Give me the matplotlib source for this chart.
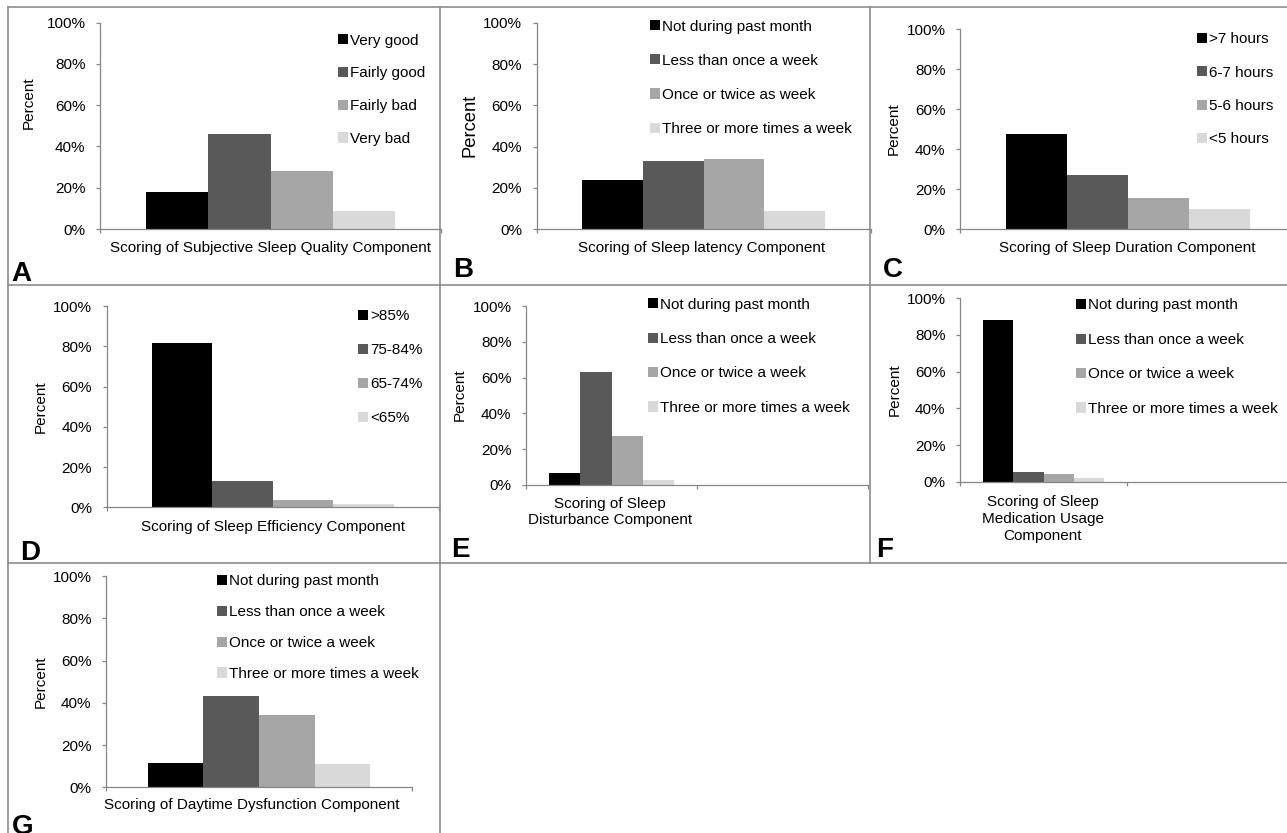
import matplotlib
matplotlib.use('Agg')
import matplotlib.pyplot as plt
from matplotlib.lines import Line2D
import numpy as np

plt.rcParams['font.family'] = ['Liberation Sans', 'DejaVu Sans']

W, H = 1287, 833

# ---- data (percent of respondents) ----
bar_colors = ['#000000', '#595959', '#a6a6a6', '#d9d9d9']

quality_labels = ['Very good', 'Fairly good', 'Fairly bad', 'Very bad']
quality_vals = [17.9, 46.0, 28.1, 8.7]

latency_labels = ['Not during past month', 'Less than once a week',
                  'Once or twice as week', 'Three or more times a week']
latency_vals = [23.9, 33.1, 34.0, 8.9]

duration_labels = ['>7 hours', '6-7 hours', '5-6 hours', '<5 hours']
duration_vals = [47.4, 27.0, 15.6, 10.1]

efficiency_labels = ['>85%', '75-84%', '65-74%', '<65%']
efficiency_vals = [81.8, 13.1, 3.6, 1.7]

freq_labels = ['Not during past month', 'Less than once a week',
               'Once or twice a week', 'Three or more times a week']
disturbance_vals = [6.6, 63.4, 27.3, 2.7]
medication_vals = [88.2, 5.3, 4.2, 2.0]
daytime_vals = [11.7, 43.4, 34.3, 10.8]

yticks = [0, 20, 40, 60, 80, 100]


def fx(x):
    return x / W


def fy(y):
    return 1 - y / H


fig = plt.figure(figsize=(W / 100, H / 100), dpi=100)

# panel frames
frame_col = '#8c8c8c'
for y in [7, 285, 563]:
    fig.add_artist(Line2D([fx(8), fx(1287)], [fy(y), fy(y)], color=frame_col, lw=1.2))
for x, y1 in [(8, 833), (440, 833), (870, 563)]:
    fig.add_artist(Line2D([fx(x), fx(x)], [fy(7), fy(y1)], color=frame_col, lw=1.2))

# panel layout in pixels: axis x, y of 0%, y of 100%, category width, n categories
panels = [
    dict(letter='A', labels=quality_labels, vals=quality_vals,
         xlabel='Scoring of Subjective Sleep Quality Component',
         geo=(100, 229, 22.7, 341, 1), ylab=(29, 103, 11), xlab=(271, 248),
         leg=(338, 39, 1.23), let=(11, 281)),
    dict(letter='B', labels=latency_labels, vals=latency_vals,
         xlabel='Scoring of Sleep latency Component',
         geo=(536.7, 229.3, 22.7, 334, 1), ylab=(470, 125, 13.2), xlab=(702, 248),
         leg=(650, 25, 1.32), let=(453, 277)),
    dict(letter='C', labels=duration_labels, vals=duration_vals,
         xlabel='Scoring of Sleep Duration Component',
         geo=(960, 229.3, 29.3, 335.7, 1), ylab=(894, 129, 11), xlab=(1127, 248),
         leg=(1197, 37.7, 1.27), let=(883, 277)),
    dict(letter='D', labels=efficiency_labels, vals=efficiency_vals,
         xlabel='Scoring of Sleep Efficiency Component',
         geo=(106.7, 507.3, 306, 332, 1), ylab=(41, 407, 11), xlab=(273, 527),
         leg=(358, 315, 1.3), let=(20, 560)),
    dict(letter='E', labels=freq_labels, vals=disturbance_vals,
         xlabel='Scoring of Sleep\nDisturbance Component',
         geo=(526, 485, 306, 171, 2), ylab=(460, 395, 11), xlab=(610, 512),
         leg=(648, 303, 1.34), let=(451, 557)),
    dict(letter='F', labels=freq_labels, vals=medication_vals,
         xlabel='Scoring of Sleep\nMedication Usage\nComponent',
         geo=(960, 481.7, 298.3, 167, 2), ylab=(895, 390, 11), xlab=(1043, 519),
         leg=(1076, 304, 1.34), let=(876, 557)),
    dict(letter='G', labels=freq_labels, vals=daytime_vals,
         xlabel='Scoring of Daytime Dysfunction Component',
         geo=(106, 787.3, 576, 306, 1), ylab=(41, 682, 11), xlab=(252, 805),
         leg=(217, 580, 1.1), let=(12, 834)),
]

axis_col = '#868686'
bw = 0.182
offsets = (np.arange(4) - 1.5) * bw

for p in panels:
    x0, y0, y100, catw, ncat = p['geo']
    ax = fig.add_axes([fx(x0), fy(y0), ncat * catw / W, (y0 - y100) / H])
    for i in range(4):
        ax.bar([offsets[i]], [p['vals'][i]], width=bw, color=bar_colors[i],
               label=p['labels'][i], zorder=2)
    ax.set_xlim(-0.5, ncat - 0.5)
    ax.set_ylim(0, 100)
    ax.set_yticks(yticks)
    ax.set_yticklabels(['%d%%' % t for t in yticks])
    ax.set_xticks(np.arange(ncat + 1) - 0.5)
    ax.set_xticklabels([])
    ax.tick_params(axis='both', direction='out', length=3, width=0.9,
                   color=axis_col, labelsize=11)
    ax.tick_params(axis='y', pad=7.5)
    for s in ['top', 'right']:
        ax.spines[s].set_visible(False)
    for s in ['left', 'bottom']:
        ax.spines[s].set_color(axis_col)
        ax.spines[s].set_linewidth(0.9)
        ax.spines[s].set_zorder(3)
    ax.patch.set_alpha(0)

    lx, ly, lsp = p['leg']
    ax.legend(loc='upper left', bbox_to_anchor=(fx(lx), fy(ly - 5.5)),
              bbox_transform=fig.transFigure, frameon=False, borderpad=0,
              borderaxespad=0, handlelength=0.65, handleheight=0.65,
              handletextpad=0.15, labelspacing=lsp, fontsize=11)

    yx, yy, ys = p['ylab']
    fig.text(fx(yx), fy(yy), 'Percent', rotation=90, ha='center', va='center',
             fontsize=ys)
    xx, xy = p['xlab']
    fig.text(fx(xx), fy(xy), p['xlabel'], ha='center', va='center',
             fontsize=11, linespacing=1.25)
    tx, ty = p['let']
    fig.text(fx(tx), fy(ty), p['letter'], ha='left', va='baseline',
             fontsize=20, fontweight='bold')

fig.savefig('out.png', dpi=100)
